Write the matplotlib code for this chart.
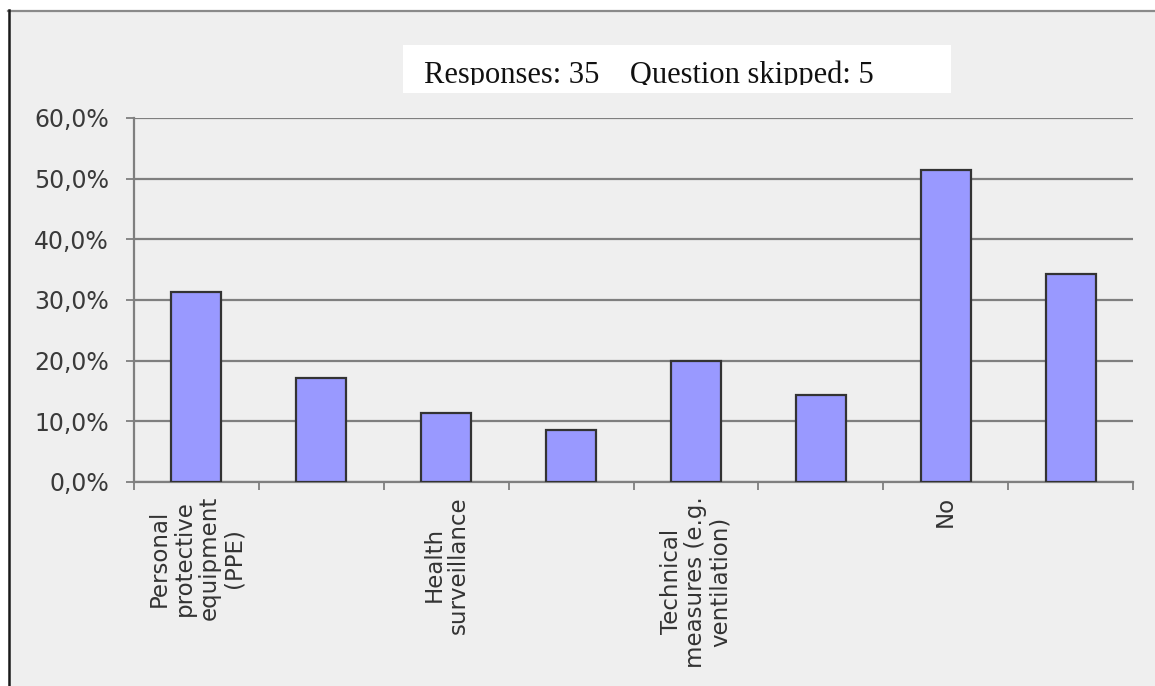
import matplotlib
matplotlib.use("Agg")
import matplotlib.pyplot as plt
from matplotlib.patches import Rectangle
from matplotlib.lines import Line2D
import numpy as np

categories = ["Personal\nprotective\nequipment\n(PPE)", "", "Health\nsurveillance", "",
              "Technical\nmeasures (e.g.\nventilation)", "", "No", ""]
values = [31.4, 17.1, 11.4, 8.6, 20.0, 14.3, 51.4, 34.3]
yticks = [0, 10, 20, 30, 40, 50, 60]
ytick_labels = ["0,0%", "10,0%", "20,0%", "30,0%", "40,0%", "50,0%", "60,0%"]
note = "Responses: 35    Question skipped: 5"

W, H = 1155, 686
fig = plt.figure(figsize=(W / 100, H / 100), dpi=100)
fig.patch.set_facecolor("white")

def fx(px):
    return px / W

def fy(py):
    return 1 - py / H

# panel background and border
fig.add_artist(Rectangle((fx(8), 0), 1 - fx(8), fy(10), transform=fig.transFigure,
                         facecolor="#efefef", edgecolor="none", zorder=-10))
fig.add_artist(Line2D([fx(8), 1], [fy(10.5), fy(10.5)], transform=fig.transFigure,
                      color="#8a8a8a", lw=1.6))
fig.add_artist(Line2D([fx(8.5), fx(8.5)], [0, fy(10)], transform=fig.transFigure,
                      color="#1a1a1a", lw=1.8))

ax = fig.add_axes([fx(134), fy(482), fx(1133) - fx(134), fy(118) - fy(482)])
ax.set_facecolor("none")
x = np.arange(len(values))
ax.bar(x, values, width=0.4, color="#9999ff", edgecolor="#333333", linewidth=1.6, zorder=3)

ax.set_xlim(-0.5, len(values) - 0.5)
ax.set_ylim(0, 60)
ax.set_yticks(yticks)
ax.set_yticklabels(ytick_labels, fontsize=17, color="#3a3a3a", family="DejaVu Sans")
ax.yaxis.grid(True, color="#7f7f7f", lw=1.6, zorder=1)
ax.set_axisbelow(True)

ax.set_xticks(x)
ax.set_xticklabels(categories, rotation=90, fontsize=16.5, color="#333333",
                   family="DejaVu Sans", ha="center", va="top",
                   multialignment="center", linespacing=1.1)
ax.set_xticks(np.arange(len(values) + 1) - 0.5, minor=True)
ax.tick_params(axis="x", which="major", length=0, pad=10)
ax.tick_params(axis="x", which="minor", length=6, width=1.3, color="#7f7f7f", direction="out")
ax.tick_params(axis="y", length=6, width=1.3, color="#7f7f7f", direction="out", pad=12)

for s in ["top", "right"]:
    ax.spines[s].set_visible(False)
for s in ["left", "bottom"]:
    ax.spines[s].set_color("#7f7f7f")
    ax.spines[s].set_linewidth(1.6)

# note box
box = Rectangle((fx(403), fy(93)), fx(951) - fx(403), fy(45) - fy(93),
                transform=fig.transFigure, facecolor="white", edgecolor="none", zorder=5)
fig.add_artist(box)
clip = Rectangle((fx(403), fy(84.5)), fx(951) - fx(403), fy(45) - fy(84.5),
                 transform=fig.transFigure, facecolor="none", edgecolor="none")
t = fig.text(fx(424), fy(83), note, fontsize=22, family="Liberation Serif",
             color="#111111", ha="left", va="baseline", zorder=6)
t.set_clip_path(clip)

fig.savefig("out.png", dpi=100, facecolor=fig.get_facecolor())
